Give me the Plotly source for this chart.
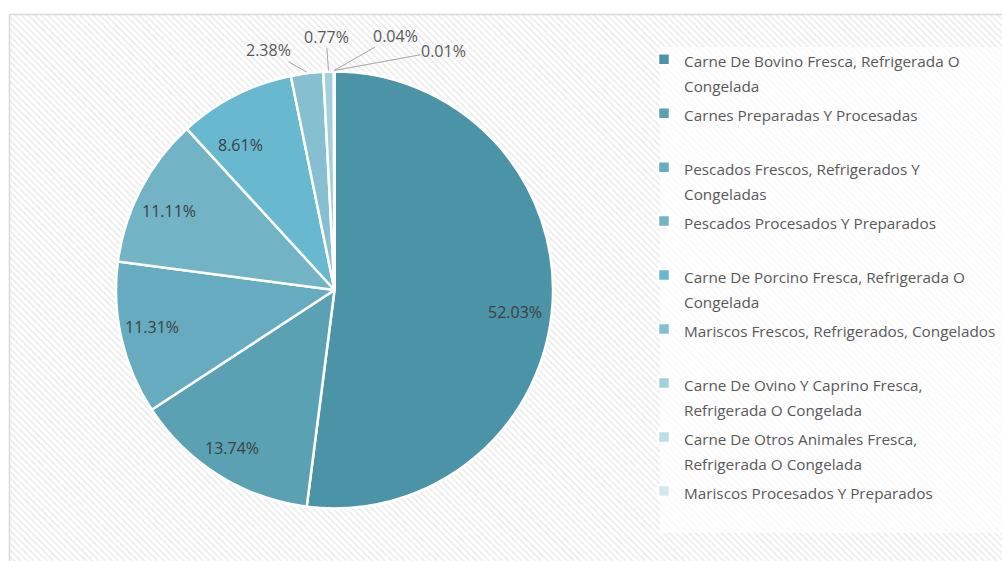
import math
import textwrap
import plotly.graph_objects as go

# ---- data ----
categories = [
    "Carne De Bovino Fresca, Refrigerada O Congelada",
    "Carnes Preparadas Y Procesadas",
    "Pescados Frescos, Refrigerados Y Congeladas",
    "Pescados Procesados Y Preparados",
    "Carne De Porcino Fresca, Refrigerada O Congelada",
    "Mariscos Frescos, Refrigerados, Congelados",
    "Carne De Ovino Y Caprino Fresca, Refrigerada O Congelada",
    "Carne De Otros Animales Fresca, Refrigerada O Congelada",
    "Mariscos Procesados Y Preparados",
]
shares = [52.03, 13.74, 11.31, 11.11, 8.61, 2.38, 0.77, 0.04, 0.01]

# ---- style ----
colors = ["#4b93a6", "#5aa1b3", "#66abbf", "#72b3c6", "#68b8cf",
          "#85bfd0", "#a4cfdc", "#bcdce6", "#d3e9ef"]
# label placement: inside labels at a fraction of the radius (with a small
# angular nudge), outside labels offset (px) from the slice edge
inside_frac = [0.83, 0.86, 0.85, 0.84, 0.79]
inside_nudge = [3.3, 0.9, 1.4, -2.1, -6.0]
outside_offset = [(-38, -22), (-2.5, -34), (61, -35), (109, -20)]

W, H = 1002, 561
cx, cy, r = 334.5, 290.0, 218.5
FONT = "Open Sans"


def legend_label(name, width=42, lines=2):
    parts = textwrap.wrap(name, width)
    parts = [f'<span style="font-size:15.3px">{p}</span>' for p in parts]
    parts += ["\u00a0"] * (lines - len(parts))
    return "<br>".join(parts)


labels = [legend_label(c) for c in categories]

fig = go.Figure()

# chart-area background (hatched) and frame
fig.add_trace(go.Scatter(
    x=[9.5, W + 2, W + 2, 9.5, 9.5], y=[14.5, 14.5, H + 2, H + 2, 14.5],
    mode="lines", fill="toself", fillcolor="white",
    fillpattern=dict(shape="\\", fgcolor="#d6d6d6", bgcolor="white",
                     size=4.6, solidity=0.33),
    line=dict(color="#d9d9d9", width=1.5),
    hoverinfo="skip", showlegend=False,
))

fig.add_trace(go.Pie(
    labels=labels,
    values=shares,
    sort=False,
    direction="clockwise",
    rotation=0,
    marker=dict(colors=colors, line=dict(color="white", width=2.5)),
    textinfo="none",
    domain=dict(x=[(cx - r) / W, (cx + r) / W],
                y=[(H - cy - r) / H, (H - cy + r) / H]),
    hoverinfo="percent",
))

# percentage labels, placed from the slice angles
total = sum(shares)
annotations = []
start = 0.0
n_inside = len(inside_frac)
for i, v in enumerate(shares):
    sweep = v / total * 360.0
    mid_deg = start + sweep / 2
    start += sweep
    txt = f"{v:.2f}%"
    if i < n_inside:
        a = math.radians(mid_deg + inside_nudge[i])
        k = inside_frac[i] * r
        annotations.append(dict(
            x=cx + k * math.sin(a), y=cy - k * math.cos(a),
            xref="x", yref="y", text=txt, showarrow=False,
            font=dict(family=FONT, size=16, color="#404040"),
        ))
    else:
        a = math.radians(mid_deg)
        dx, dy = outside_offset[i - n_inside]
        annotations.append(dict(
            x=cx + (r + 1) * math.sin(a), y=cy - (r + 1) * math.cos(a),
            xref="x", yref="y", text=txt, showarrow=True,
            ax=dx, ay=dy, arrowhead=0, arrowwidth=1, arrowcolor="#a6a6a6",
            standoff=0, startstandoff=0, borderpad=0,
            font=dict(family=FONT, size=16, color="#595959"),
        ))

fig.update_layout(
    width=W, height=H,
    margin=dict(l=0, r=0, t=0, b=0, autoexpand=False),
    paper_bgcolor="white", plot_bgcolor="rgba(0,0,0,0)",
    xaxis=dict(range=[0, W], visible=False, fixedrange=True),
    yaxis=dict(range=[H, 0], visible=False, fixedrange=True),
    showlegend=True,
    legend=dict(
        x=644 / W, y=1 - 40 / H, xanchor="left", yanchor="top",
        bgcolor="rgba(0,0,0,0)",
        font=dict(family=FONT, size=19.6, color="#595959"),
        valign="top", traceorder="normal",
    ),
    annotations=annotations,
    shapes=[dict(type="rect", xref="x", yref="y", x0=660, x1=W, y0=47, y1=533,
                 fillcolor="rgba(255,255,255,0.72)", line=dict(width=0),
                 layer="above")],
)

fig.write_html("out.html", config={"displayModeBar": False},
               post_script="document.body.style.margin='0';")
